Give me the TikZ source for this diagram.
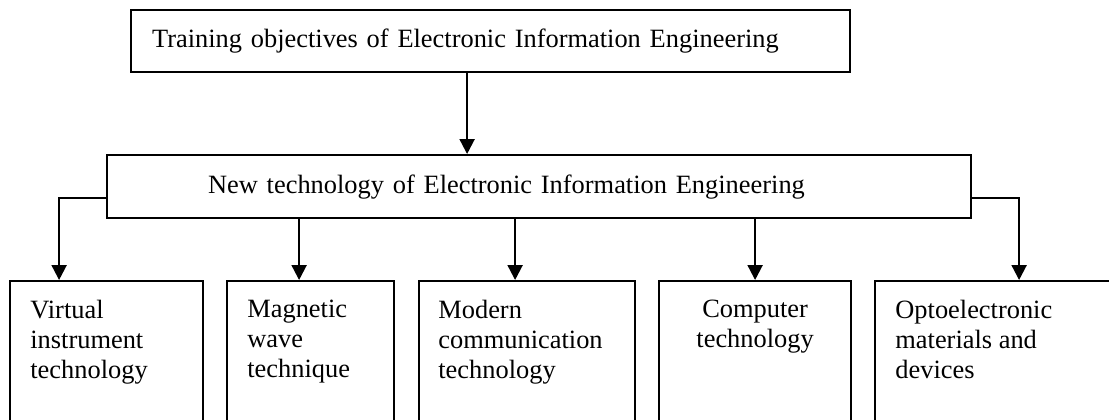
\documentclass[tikz,border=0pt]{standalone}
\usepackage{fontspec}
\setmainfont{Liberation Serif}
\usetikzlibrary{arrows.meta}

\begin{document}
\begin{tikzpicture}[x=0.5pt, y=-0.5pt,
  box/.style={draw, line width=1.1pt, anchor=north west, inner sep=0pt},
  leaftext/.style={anchor=north west, align=left, inner sep=0pt},
  arr/.style={line width=1.1pt, -{Triangle[width=7.5pt,length=7.5pt]}},
  every node/.append style={font=\fontsize{13.2}{15}\selectfont}]

\useasboundingbox (0,0) rectangle (1109,419);
\clip (0,0) rectangle (1109,419);

% Top box
\node [box, inner xsep=10.5pt, minimum width=359.5pt, minimum height=31pt, text width=338.5pt, align=left] (aim) at (130,9) {Training objectives of Electronic Information Engineering};

% Middle box
\node [box, inner xsep=50.5pt, minimum width=432pt, minimum height=31.5pt, text width=331pt, align=left] (tech) at (106,154) {New technology of Electronic Information Engineering};

% Bottom boxes
\node [box, minimum width=96.5pt, minimum height=80pt] (vit) at (9,280) {};
\node [box, minimum width=83.5pt, minimum height=80pt] (mwt) at (226,280) {};
\node [box, minimum width=108pt, minimum height=80pt] (mct) at (418,280) {};
\node [box, minimum width=96pt, minimum height=80pt] (ct) at (658,280) {};
\node [box, minimum width=144pt, minimum height=80pt] (ome) at (874,280) {};

\node [leaftext] at ([xshift=10.5pt, yshift=-10pt]vit.north west) {Virtual\\instrument\\technology};
\node [leaftext] at ([xshift=10.5pt, yshift=-10pt]mwt.north west) {Magnetic\\wave\\technique};
\node [leaftext] at ([xshift=10pt, yshift=-10pt]mct.north west) {Modern\\communication\\technology};
\node [leaftext, anchor=north, align=center] at ([yshift=-10pt]ct.north) {Computer\\technology};
\node [leaftext] at ([xshift=10.5pt, yshift=-10pt]ome.north west) {Optoelectronic\\materials and\\devices};

% Connectors
\draw [arr] ([xshift=-11.75pt]aim.south) -- ([xshift=-11.75pt]aim.south |- tech.north);
\draw [arr] ([yshift=-5.75pt]tech.west) -| ([xshift=-23.75pt]vit.north);
\draw [arr] ([xshift=-5.75pt]mwt.north |- tech.south) -- ([xshift=-5.75pt]mwt.north);
\draw [arr] ([xshift=-6pt]mct.north |- tech.south) -- ([xshift=-6pt]mct.north);
\draw [arr] (ct.north |- tech.south) -- (ct.north);
\draw [arr] ([yshift=-5.75pt]tech.east) -| (ome.north);

\end{tikzpicture}
\end{document}
